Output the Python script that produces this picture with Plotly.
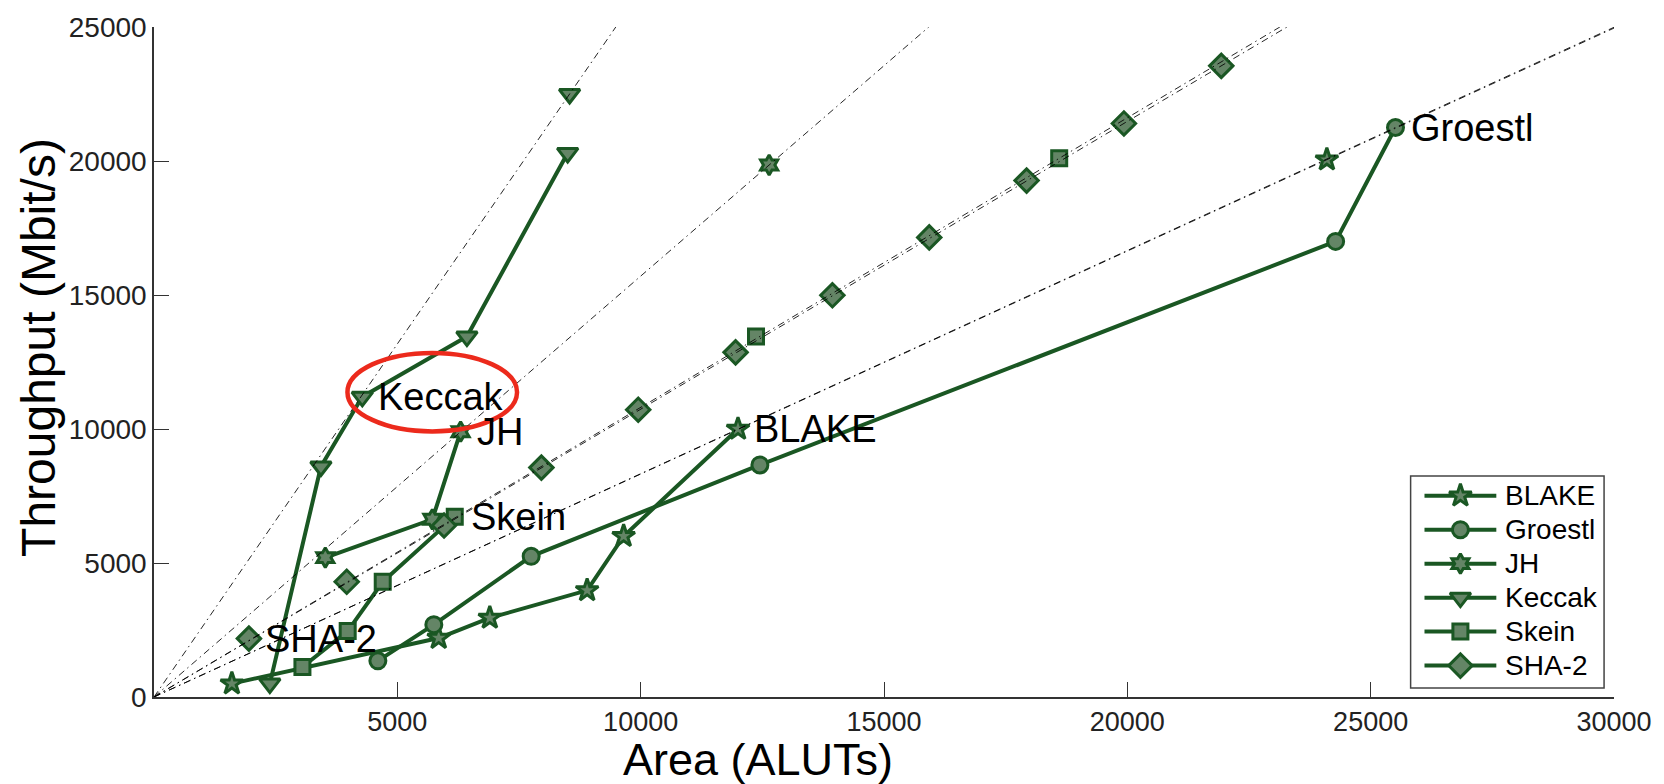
import plotly.graph_objects as go

# ---- data: area (ALUTs) vs throughput (Mbit/s) ----
blake_area = [1600, 5850, 6900, 8900, 9650, 12000]
blake_tp = [500, 2200, 2950, 3980, 6000, 10000]
groestl_area = [4600, 5750, 7750, 12450, 24280, 25510]
groestl_tp = [1350, 2700, 5250, 8660, 17000, 21250]
jh_area = [3520, 5720, 6300]
jh_tp = [5200, 6630, 9900]
keccak_area = [2380, 3430, 4280, 6430, 8500]
keccak_tp = [500, 8600, 11200, 13450, 20300]
skein_area = [3050, 3980, 4700, 6180]
skein_tp = [1120, 2460, 4300, 6730]
sha2_area = [1950, 3960, 5960, 7960, 9950, 11950, 13940, 15930, 17930, 19930, 21930]
sha2_tp = [2180, 4300, 6400, 8560, 10720, 12860, 14990, 17150, 19270, 21400, 23550]

# replicated (parallel) instances lying on the scaling lines
blake_rep_area = [24100]
blake_rep_tp = [20050]
jh_rep_area = [12640]
jh_rep_tp = [19850]
keccak_rep_area = [8540]
keccak_rep_tp = [22500]
skein_rep_area = [12370, 18600]
skein_rep_tp = [13450, 20100]

names = ["BLAKE", "Groestl", "JH", "Keccak", "Skein", "SHA-2"]
symbols = ["star", "circle", "hexagram", "triangle-down", "square", "diamond"]
sizes = [17, 16, 15, 18, 15, 18]

x_ticks = [5000, 10000, 15000, 20000, 25000, 30000]
y_ticks = [0, 5000, 10000, 15000, 20000, 25000]
X_MAX, Y_MAX = 30000, 25000

LINE = "#1a5723"
FILL = "#648566"
FONT = "Liberation Sans, Arial, sans-serif"

main_series = {
    "BLAKE": (blake_area, blake_tp),
    "Groestl": (groestl_area, groestl_tp),
    "JH": (jh_area, jh_tp),
    "Keccak": (keccak_area, keccak_tp),
    "Skein": (skein_area, skein_tp),
}
rep_series = {
    "BLAKE": (blake_rep_area, blake_rep_tp),
    "JH": (jh_rep_area, jh_rep_tp),
    "Keccak": (keccak_rep_area, keccak_rep_tp),
    "Skein": (skein_rep_area, skein_rep_tp),
    "SHA-2": (sha2_area, sha2_tp),
}
# scaling line of each design goes through the origin and this point
scale_ref = {
    "BLAKE": (blake_rep_area[-1], blake_rep_tp[-1]),
    "Groestl": (groestl_area[-1], groestl_tp[-1]),
    "JH": (jh_rep_area[-1], jh_rep_tp[-1]),
    "Keccak": (keccak_rep_area[-1], keccak_rep_tp[-1]),
    "Skein": (skein_rep_area[-1], skein_rep_tp[-1]),
    "SHA-2": (sha2_area[-1], sha2_tp[-1]),
}

fig = go.Figure()

def marker(name):
    i = names.index(name)
    return dict(symbol=symbols[i], size=sizes[i], color=FILL,
                line=dict(color=LINE, width=3))

for name, (xs, ys) in main_series.items():
    fig.add_trace(go.Scatter(x=xs, y=ys, mode="lines+markers", name=name,
                             line=dict(color=LINE, width=4),
                             marker=marker(name), showlegend=False))

for name, (xs, ys) in rep_series.items():
    fig.add_trace(go.Scatter(x=xs, y=ys, mode="markers", name=name,
                             marker=marker(name), showlegend=False))

# dash-dot scaling lines from the origin to the edge of the axes box
for name, (rx, ry) in scale_ref.items():
    slope = ry / rx
    x_end = min(X_MAX, Y_MAX / slope)
    fig.add_trace(go.Scatter(x=[0, x_end], y=[0, slope * x_end], mode="lines",
                             line=dict(color="rgba(0,0,0,0.85)", width=1,
                                       dash="7px,4px,1.5px,4px"),
                             hoverinfo="skip", showlegend=False))

# series labels next to their end points
label_at = {
    "Keccak": (keccak_area[2], keccak_tp[2]),
    "JH": (jh_area[-1], jh_tp[-1]),
    "Skein": (skein_area[-1], skein_tp[-1]),
    "SHA-2": (sha2_area[0], sha2_tp[0]),
    "BLAKE": (blake_area[-1], blake_tp[-1]),
    "Groestl": (groestl_area[-1], groestl_tp[-1]),
}
annotations = []
for name, (lx, ly) in label_at.items():
    annotations.append(dict(x=lx, y=ly, xref="x", yref="y", text=name,
                            showarrow=False, xanchor="left", yanchor="middle",
                            xshift=14, font=dict(family=FONT, size=38, color="black")))

# axis titles
annotations.append(dict(x=0.414, y=-0.094, xref="paper", yref="paper",
                        text="Area (ALUTs)", showarrow=False,
                        xanchor="center", yanchor="middle",
                        font=dict(family=FONT, size=45, color="black")))
annotations.append(dict(x=-0.079, y=0.522, xref="paper", yref="paper",
                        text="Throughput (Mbit/s)", showarrow=False, textangle=-90,
                        xanchor="center", yanchor="middle",
                        font=dict(family=FONT, size=48, color="black")))

# legend box drawn on an overlay axis spanning the plot area (0..1)
leg_x0, leg_x1 = 0.8607, 0.9932
leg_y0, leg_y1 = 0.0133, 0.3299
row_top, row_step = 0.3004, 0.0507
ln_x0, ln_x1, txt_x = 0.8702, 0.9194, 0.9242
for i, name in enumerate(names):
    ry = row_top - i * row_step
    fig.add_trace(go.Scatter(x=[ln_x0, ln_x1], y=[ry, ry], mode="lines",
                             xaxis="x2", yaxis="y2",
                             line=dict(color=LINE, width=4),
                             hoverinfo="skip", showlegend=False))
    fig.add_trace(go.Scatter(x=[(ln_x0 + ln_x1) / 2], y=[ry], mode="markers",
                             xaxis="x2", yaxis="y2", marker=marker(name),
                             hoverinfo="skip", showlegend=False))
    annotations.append(dict(x=txt_x, y=ry, xref="x2", yref="y2", text=name,
                            showarrow=False, xanchor="left", yanchor="middle",
                            font=dict(family=FONT, size=28, color="black")))

shapes = [
    dict(type="rect", xref="x2", yref="y2", x0=leg_x0, x1=leg_x1,
         y0=leg_y0, y1=leg_y1, line=dict(color="#444", width=1.5), layer="above"),
    # red highlight round the Keccak label
    dict(type="circle", xref="x", yref="y", x0=3975, x1=7460, y0=9910, y1=12840,
         line=dict(color="rgb(236,42,28)", width=4.5), layer="above"),
]

fig.update_layout(
    width=1664, height=784,
    margin=dict(l=154, r=46, t=18, b=87),
    paper_bgcolor="white", plot_bgcolor="white",
    showlegend=False,
    font=dict(family=FONT, color="#222"),
    xaxis=dict(range=[0, X_MAX], tickvals=x_ticks, ticktext=[str(v) for v in x_ticks],
               ticks="inside", ticklen=15, tickwidth=1, tickcolor="#333",
               showline=True, linecolor="#333", linewidth=1.5,
               showgrid=False, zeroline=False, tickfont=dict(size=27, color="#222")),
    yaxis=dict(range=[0, Y_MAX], tickvals=y_ticks, ticktext=[str(v) for v in y_ticks],
               ticks="inside", ticklen=15, tickwidth=1, tickcolor="#333",
               showline=True, linecolor="#333", linewidth=1.5,
               showgrid=False, zeroline=False, tickfont=dict(size=28, color="#222")),
    xaxis2=dict(range=[0, 1], overlaying="x", visible=False, anchor="y2"),
    yaxis2=dict(range=[0, 1], overlaying="y", visible=False, anchor="x2"),
    annotations=annotations,
    shapes=shapes,
)

fig.write_html("out.html")
